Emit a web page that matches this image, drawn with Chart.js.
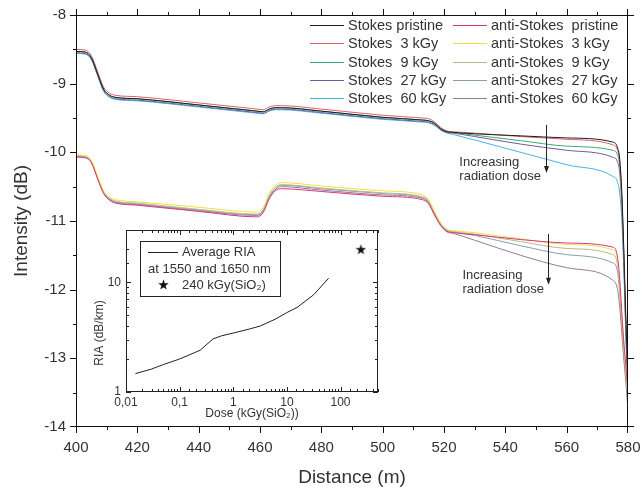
<!DOCTYPE html>
<html lang="en">
<head>
<meta charset="utf-8">
<title>Stokes / anti-Stokes intensity vs distance</title>
<script src="https://cdn.jsdelivr.net/npm/chart.js@4.4.1/dist/chart.umd.min.js"></script>
<style>
  body { margin: 0; background: #fff; }
  #wrap { position: relative; width: 642px; height: 492px; }
  #inset { position: absolute; left: 86px; top: 222px; }
</style>
</head>
<body>
<div id="wrap">
  <canvas id="main" width="642" height="492"></canvas>
  <canvas id="inset" width="300" height="200"></canvas>
</div>
<script>
// ---- data ----
const distance = [400, 403, 405, 407, 409, 411, 413, 420, 440, 459, 461, 463, 465, 467, 480, 500,
  513, 515, 517, 519, 521, 523, 530, 545, 560, 575, 576.5, 577.3, 578, 578.7, 579.3, 580];

const stokesPristine = [-8.53, -8.54, -8.62, -8.85, -9.08, -9.17, -9.20, -9.22, -9.31, -9.40, -9.41, -9.37, -9.35, -9.35, -9.40, -9.49,
  -9.53, -9.54, -9.58, -9.66, -9.70, -9.71, -9.73, -9.76, -9.79, -9.85, -9.92, -10.10, -10.60, -11.50, -12.40, -13.30];
const stokes3 = [-8.50, -8.51, -8.59, -8.82, -9.05, -9.14, -9.17, -9.19, -9.28, -9.37, -9.38, -9.34, -9.32, -9.32, -9.37, -9.46,
  -9.50, -9.51, -9.56, -9.64, -9.69, -9.70, -9.72, -9.77, -9.81, -9.89, -9.96, -10.15, -10.70, -11.60, -12.50, -13.40];
const stokes9 = [-8.53, -8.54, -8.62, -8.85, -9.08, -9.17, -9.20, -9.22, -9.31, -9.40, -9.41, -9.37, -9.35, -9.35, -9.40, -9.49,
  -9.53, -9.54, -9.58, -9.66, -9.70, -9.71, -9.75, -9.83, -9.91, -9.97, -10.03, -10.20, -10.70, -11.60, -12.50, -13.40];
const stokes27 = [-8.55, -8.56, -8.64, -8.87, -9.10, -9.19, -9.22, -9.24, -9.33, -9.42, -9.43, -9.39, -9.37, -9.37, -9.42, -9.51,
  -9.55, -9.56, -9.60, -9.67, -9.71, -9.72, -9.77, -9.88, -9.97, -10.07, -10.13, -10.30, -10.80, -11.70, -12.60, -13.50];
const stokes60 = [-8.56, -8.57, -8.65, -8.88, -9.11, -9.20, -9.23, -9.25, -9.34, -9.43, -9.44, -9.40, -9.38, -9.38, -9.43, -9.52,
  -9.56, -9.57, -9.61, -9.68, -9.72, -9.74, -9.82, -10.00, -10.18, -10.35, -10.42, -10.60, -11.00, -11.80, -12.70, -13.60];

const antiPristine = [-10.07, -10.08, -10.15, -10.38, -10.60, -10.70, -10.74, -10.77, -10.86, -10.94, -10.88, -10.68, -10.56, -10.53, -10.57, -10.64,
  -10.69, -10.75, -10.92, -11.07, -11.15, -11.17, -11.20, -11.27, -11.32, -11.38, -11.50, -11.85, -12.35, -12.80, -13.10, -13.50];
const anti3 = [-10.04, -10.05, -10.12, -10.34, -10.56, -10.65, -10.69, -10.72, -10.80, -10.87, -10.81, -10.60, -10.48, -10.44, -10.49, -10.56,
  -10.62, -10.69, -10.87, -11.03, -11.12, -11.14, -11.17, -11.26, -11.34, -11.42, -11.55, -11.90, -12.40, -12.85, -13.15, -13.55];
const anti9 = [-10.05, -10.06, -10.13, -10.36, -10.58, -10.67, -10.71, -10.74, -10.83, -10.90, -10.84, -10.63, -10.51, -10.47, -10.52, -10.59,
  -10.65, -10.71, -10.89, -11.04, -11.13, -11.15, -11.19, -11.30, -11.40, -11.49, -11.62, -11.95, -12.45, -12.90, -13.20, -13.60];
const anti27 = [-10.05, -10.06, -10.13, -10.36, -10.58, -10.68, -10.72, -10.75, -10.84, -10.91, -10.85, -10.64, -10.52, -10.48, -10.53, -10.60,
  -10.66, -10.72, -10.90, -11.05, -11.14, -11.16, -11.21, -11.36, -11.49, -11.61, -11.72, -12.05, -12.50, -12.95, -13.25, -13.65];
const anti60 = [-10.06, -10.07, -10.14, -10.37, -10.59, -10.69, -10.73, -10.76, -10.85, -10.92, -10.86, -10.66, -10.54, -10.50, -10.55, -10.62,
  -10.67, -10.74, -10.92, -11.07, -11.16, -11.18, -11.28, -11.50, -11.68, -11.86, -11.98, -12.25, -12.65, -13.05, -13.35, -13.75];

const seriesLabels = [
  "Stokes pristine", "anti-Stokes  pristine",
  "Stokes  3 kGy", "anti-Stokes  3 kGy",
  "Stokes  9 kGy", "anti-Stokes  9 kGy",
  "Stokes  27 kGy", "anti-Stokes  27 kGy",
  "Stokes  60 kGy", "anti-Stokes  60 kGy"
];
const seriesValues = [stokesPristine, antiPristine, stokes3, anti3, stokes9, anti9, stokes27, anti27, stokes60, anti60];
const seriesColors = ["#1e1e1e", "#d9347f", "#e35d6c", "#f1e03c", "#33ad72", "#b7b78e", "#6c5c9e", "#8b9bb2", "#41b5e5", "#9c7b8d"];

// inset: average RIA vs dose
const dose = [0.015, 0.03, 0.05, 0.1, 0.24, 0.42, 0.6, 1, 2, 3.2, 6, 10, 15.5, 31.6, 60];
const ria = [1.47, 1.62, 1.78, 2.0, 2.4, 3.05, 3.25, 3.45, 3.75, 4.0, 4.6, 5.3, 5.9, 7.7, 10.9];
const starDose = [240];
const starRia = [20];

const FONT = "'Liberation Sans', Arial, sans-serif";
Chart.defaults.font.family = FONT;
Chart.defaults.color = "#333";

function line(ctx, x1, y1, x2, y2) {
  ctx.beginPath();
  ctx.moveTo(x1, y1);
  ctx.lineTo(x2, y2);
  ctx.stroke();
}

function starCanvas(size) {
  const c = document.createElement("canvas");
  c.width = c.height = size;
  const g = c.getContext("2d");
  g.fillStyle = "#111";
  g.beginPath();
  for (let i = 0; i < 10; i++) {
    const r = i % 2 ? size * 0.2 : size * 0.5;
    const a = -Math.PI / 2 + i * Math.PI / 5;
    g.lineTo(size / 2 + r * Math.cos(a), size * 0.55 + r * Math.sin(a));
  }
  g.closePath();
  g.fill();
  return c;
}
const starImg = starCanvas(11);

// keep the plot box where the figure has it (no label overflow padding)
function noOverflow(s) {
  s.paddingLeft = 0;
  s.paddingRight = 0;
  s.paddingTop = 0;
  s.paddingBottom = 0;
}

// frame, outward ticks, legend and annotations of the main plot
const mainDecor = {
  id: "mainDecor",
  afterDraw(chart) {
    const { ctx, chartArea: a } = chart;
    const xs = chart.scales.x;
    const ys = chart.scales.y;
    ctx.save();
    ctx.strokeStyle = "#111";
    ctx.fillStyle = "#111";
    ctx.lineWidth = 1;
    ctx.strokeRect(a.left + 0.5, a.top + 0.5, a.right - a.left - 1, a.bottom - a.top - 1);

    const withMinor = (vals) => {
      const out = [];
      vals.forEach((v, i) => {
        out.push([v, 6]);
        if (i < vals.length - 1) out.push([(v + vals[i + 1]) / 2, 3]);
      });
      return out;
    };
    withMinor(xs.ticks.map((t) => t.value)).forEach(([v, len]) => {
      const px = Math.min(Math.round(xs.getPixelForValue(v)), a.right - 1) + 0.5;
      line(ctx, px, a.bottom, px, a.bottom + len);
      line(ctx, px, a.top, px, a.top - len);
    });
    withMinor(ys.ticks.map((t) => t.value)).forEach(([v, len]) => {
      const py = Math.min(Math.round(ys.getPixelForValue(v)), a.bottom - 1) + 0.5;
      line(ctx, a.left, py, a.left - len, py);
      line(ctx, a.right, py, a.right + len, py);
    });

    // legend, two columns
    ctx.font = "14.5px " + FONT;
    ctx.textBaseline = "middle";
    chart.data.datasets.forEach((ds, i) => {
      const y = Math.round(25 + Math.floor(i / 2) * 18.3) + 0.5;
      const x0 = i % 2 ? 453 : 310;
      ctx.strokeStyle = ds.borderColor;
      line(ctx, x0, y, x0 + 34, y);
      ctx.fillStyle = "#333";
      ctx.fillText(ds.label, x0 + 38, y);
    });

    // "Increasing radiation dose" notes
    ctx.font = "13px " + FONT;
    ctx.fillStyle = "#333";
    ctx.textAlign = "left";
    const notes = [[525, -10.14, "Increasing"], [525, -10.35, "radiation dose"],
      [526, -11.79, "Increasing"], [526, -12.0, "radiation dose"]];
    notes.forEach(([x, y, t]) => ctx.fillText(t, xs.getPixelForValue(x), ys.getPixelForValue(y)));

    ctx.strokeStyle = "#222";
    ctx.fillStyle = "#222";
    [[553.2, -9.6, -10.3], [554, -11.19, -11.93]].forEach(([x, y1, y2]) => {
      const px = Math.round(xs.getPixelForValue(x)) + 0.5;
      const p1 = ys.getPixelForValue(y1);
      const p2 = ys.getPixelForValue(y2);
      line(ctx, px, p1, px, p2 - 5);
      ctx.beginPath();
      ctx.moveTo(px - 2.5, p2 - 7);
      ctx.lineTo(px + 2.5, p2 - 7);
      ctx.lineTo(px, p2);
      ctx.closePath();
      ctx.fill();
    });
    ctx.restore();
  }
};

new Chart(document.getElementById("main"), {
  type: "line",
  data: {
    datasets: seriesValues.map((vals, i) => ({
      label: seriesLabels[i],
      data: distance.map((d, j) => ({ x: d, y: vals[j] })),
      borderColor: seriesColors[i],
      borderWidth: 1,
      pointRadius: 0,
      fill: false,
      cubicInterpolationMode: "monotone"
    }))
  },
  options: {
    responsive: false,
    animation: false,
    layout: { padding: { left: 0, top: 15, right: 14, bottom: 0 } },
    scales: {
      x: {
        type: "linear",
        min: 400,
        max: 580,
        grid: { display: false, drawTicks: false },
        border: { display: false },
        ticks: { stepSize: 20, padding: 12, font: { size: 15 }, maxRotation: 0 },
        title: { display: true, text: "Distance (m)", font: { size: 19 }, padding: { top: 0, bottom: 3 } },
        afterFit(s) { s.height = 65; noOverflow(s); }
      },
      y: {
        min: -14,
        max: -8,
        grid: { display: false, drawTicks: false },
        border: { display: false },
        ticks: { stepSize: 1, padding: 10, font: { size: 15 } },
        title: { display: true, text: "Intensity (dB)", font: { size: 19 }, padding: { top: 10, bottom: 0 } },
        afterFit(s) { s.width = 76; noOverflow(s); }
      }
    },
    plugins: { legend: { display: false }, tooltip: { enabled: false } }
  },
  plugins: [mainDecor]
});

// ---- inset ----
const isDecade = (v) => Math.abs(Math.log10(v) - Math.round(Math.log10(v))) < 1e-9;

const insetDecor = {
  id: "insetDecor",
  beforeDraw(chart) {
    const { ctx, chartArea: a } = chart;
    ctx.save();
    ctx.fillStyle = "#fff";
    ctx.fillRect(a.left, a.top, a.right - a.left, a.bottom - a.top);
    ctx.restore();
  },
  afterDraw(chart) {
    const { ctx, chartArea: a } = chart;
    const xs = chart.scales.x;
    const ys = chart.scales.y;
    ctx.save();
    ctx.strokeStyle = "#222";
    ctx.lineWidth = 1;
    ctx.strokeRect(a.left + 0.5, a.top + 0.5, a.right - a.left - 1, a.bottom - a.top - 1);
    xs.ticks.forEach((t) => {
      const px = Math.round(xs.getPixelForValue(t.value)) + 0.5;
      const len = isDecade(t.value) ? 5 : 3;
      line(ctx, px, a.bottom, px, a.bottom - len);
      line(ctx, px, a.top, px, a.top + len);
    });
    ys.ticks.forEach((t) => {
      const py = Math.round(ys.getPixelForValue(t.value)) + 0.5;
      const len = isDecade(t.value) ? 5 : 3;
      line(ctx, a.left, py, a.left + len, py);
      line(ctx, a.right, py, a.right - len, py);
    });

    // y title sits low on the axis in the figure
    ctx.font = "12px " + FONT;
    ctx.fillStyle = "#333";
    ctx.textAlign = "center";
    ctx.textBaseline = "middle";
    ctx.save();
    ctx.translate(14, 111);
    ctx.rotate(-Math.PI / 2);
    ctx.fillText("RIA (dB/km)", 0, 0);
    ctx.restore();

    // legend box
    ctx.textAlign = "left";
    ctx.strokeRect(54.5, 19.5, 140, 55);
    ctx.font = "13px " + FONT;
    line(ctx, 62, 30.5, 92, 30.5);
    ctx.fillText("Average RIA", 96, 30);
    ctx.fillText("at 1550 and 1650 nm", 62, 47);
    ctx.drawImage(starImg, 72, 57);
    ctx.fillText("240 kGy(SiO\u2082)", 96, 63);
    ctx.restore();
  }
};

const decadeLabel = (v) => (isDecade(v) ? String(v).replace(".", ",") : "");

new Chart(document.getElementById("inset"), {
  type: "scatter",
  data: {
    datasets: [
      {
        label: "Average RIA",
        data: dose.map((d, i) => ({ x: d, y: ria[i] })),
        showLine: true,
        borderColor: "#222",
        borderWidth: 1,
        pointRadius: 0
      },
      {
        label: "240 kGy(SiO\u2082)",
        data: starDose.map((d, i) => ({ x: d, y: starRia[i] })),
        pointStyle: starImg,
        pointRadius: 6
      }
    ]
  },
  options: {
    responsive: false,
    animation: false,
    layout: { padding: { left: 0, top: 8, right: 8, bottom: 0 } },
    scales: {
      x: {
        type: "logarithmic",
        min: 0.01,
        max: 500,
        grid: { display: false, drawTicks: false },
        border: { display: false },
        ticks: { autoSkip: false, maxRotation: 0, padding: 3, font: { size: 12 }, callback: decadeLabel },
        title: { display: true, text: "Dose (kGy(SiO\u2082))", font: { size: 12 }, padding: { top: 0, bottom: 1 } },
        afterFit(s) { s.height = 30; noOverflow(s); }
      },
      y: {
        type: "logarithmic",
        min: 1,
        max: 30,
        grid: { display: false, drawTicks: false },
        border: { display: false },
        ticks: { autoSkip: false, padding: 5, font: { size: 12 }, callback: decadeLabel },
        afterFit(s) { s.width = 40; noOverflow(s); }
      }
    },
    plugins: { legend: { display: false }, tooltip: { enabled: false } }
  },
  plugins: [insetDecor]
});
</script>
</body>
</html>
